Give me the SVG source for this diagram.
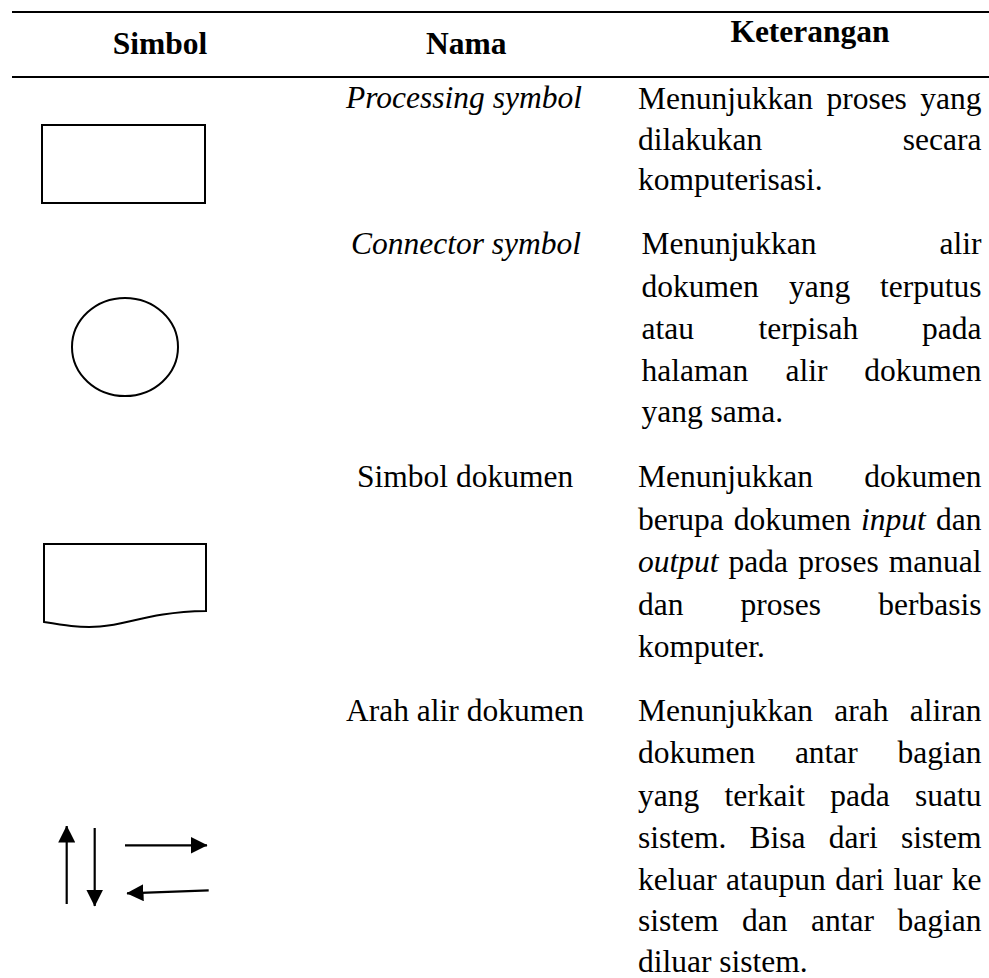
<svg xmlns="http://www.w3.org/2000/svg" width="989" height="978" viewBox="0 0 989 978">
<style>
text{font-family:"Liberation Serif","Times New Roman",serif;font-size:31.5px;fill:#000}
.h{font-weight:bold}
.i{font-style:italic}
.e{text-anchor:end}
.rule{stroke:#000;stroke-width:2.2}
.shape{fill:#fff;stroke:#000;stroke-width:2}
.arr{fill:none;stroke:#000;stroke-width:2.2}
</style>
<defs>
<marker id="ah" markerUnits="userSpaceOnUse" viewBox="0 0 17 17" markerWidth="17" markerHeight="17" refX="16.5" refY="8.5" orient="auto">
<path d="M0,0 L17,8.5 L0,17 z" fill="#000"/>
</marker>
</defs>
<rect width="989" height="978" fill="#fff"/>
<g id="table-rules">
<line class="rule" x1="12" y1="12" x2="989" y2="12"/>
<line class="rule" x1="12" y1="77" x2="989" y2="77"/>
</g>
<g id="header">
<text class="h" x="160" y="54" text-anchor="middle">Simbol</text>
<text class="h" x="426" y="54">Nama</text>
<text class="h" x="810" y="42" text-anchor="middle">Keterangan</text>
</g>
<g id="row-processing">
<rect class="shape" x="42" y="125" width="163" height="78"/>
<text class="i" x="346" y="108">Processing symbol</text>
<text x="638" y="109">Menunjukkan</text>
<text x="826.4" y="109">proses</text>
<text class="e" x="981.5" y="109">yang</text>
<text x="638" y="150">dilakukan</text>
<text class="e" x="981.5" y="150">secara</text>
<text x="638" y="190">komputerisasi.</text>
</g>
<g id="row-connector">
<ellipse class="shape" cx="125" cy="347" rx="53" ry="49"/>
<text class="i" x="351" y="254">Connector symbol</text>
<text x="641.5" y="254">Menunjukkan</text>
<text class="e" x="981.5" y="254">alir</text>
<text x="641.5" y="297">dokumen</text>
<text x="789" y="297">yang</text>
<text class="e" x="981.5" y="297">terputus</text>
<text x="641.5" y="339">atau</text>
<text x="758.5" y="339">terpisah</text>
<text class="e" x="981.5" y="339">pada</text>
<text x="641.5" y="381">halaman</text>
<text x="785.5" y="381">alir</text>
<text class="e" x="981.5" y="381">dokumen</text>
<text x="641.5" y="422">yang sama.</text>
</g>
<g id="row-document">
<path class="shape" d="M44,544 L206,544 L206,611 C150,612 130,624 100,626.5 C80,628 62,625 44,622 Z"/>
<text x="357" y="487">Simbol dokumen</text>
<text x="638" y="487">Menunjukkan</text>
<text class="e" x="981.5" y="487">dokumen</text>
<text x="638" y="530">berupa</text>
<text x="733.8" y="530">dokumen</text>
<text class="i" x="861.1" y="530">input</text>
<text class="e" x="981.5" y="530">dan</text>
<text class="i" x="638" y="572">output</text>
<text x="728.6" y="572">pada</text>
<text x="798.2" y="572">proses</text>
<text class="e" x="981.5" y="572">manual</text>
<text x="638" y="615">dan</text>
<text x="740.6" y="615">proses</text>
<text class="e" x="981.5" y="615">berbasis</text>
<text x="638" y="657">komputer.</text>
</g>
<g id="row-flow">
<g id="flow-arrows">
<line class="arr" x1="66.7" y1="904" x2="66.7" y2="826" marker-end="url(#ah)"/>
<line class="arr" x1="94.7" y1="828" x2="94.7" y2="906" marker-end="url(#ah)"/>
<line class="arr" x1="125" y1="845.3" x2="207" y2="845.3" marker-end="url(#ah)"/>
<line class="arr" x1="208.7" y1="890.3" x2="127" y2="893.3" marker-end="url(#ah)"/>
</g>
<text x="346" y="721">Arah alir dokumen</text>
<text x="638" y="721">Menunjukkan</text>
<text x="834.3" y="721">arah</text>
<text class="e" x="981.5" y="721">aliran</text>
<text x="638" y="763">dokumen</text>
<text x="794.9" y="763">antar</text>
<text class="e" x="981.5" y="763">bagian</text>
<text x="638" y="806">yang</text>
<text x="724.5" y="806">terkait</text>
<text x="830.3" y="806">pada</text>
<text class="e" x="981.5" y="806">suatu</text>
<text x="638" y="848">sistem.</text>
<text x="749.6" y="848">Bisa</text>
<text x="828.8" y="848">dari</text>
<text class="e" x="981.5" y="848">sistem</text>
<text x="638" y="890">keluar</text>
<text x="726.1" y="890">ataupun</text>
<text x="835.2" y="890">dari</text>
<text x="893.5" y="890">luar</text>
<text class="e" x="981.5" y="890">ke</text>
<text x="638" y="931">sistem</text>
<text x="742" y="931">dan</text>
<text x="811" y="931">antar</text>
<text class="e" x="981.5" y="931">bagian</text>
<text x="638" y="972">diluar sistem.</text>
</g>
</svg>
